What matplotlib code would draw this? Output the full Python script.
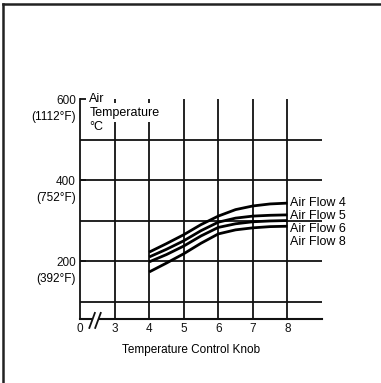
import matplotlib
matplotlib.use("Agg")
import matplotlib.pyplot as plt
from matplotlib.lines import Line2D

plt.rcParams["font.family"] = ["Liberation Sans", "DejaVu Sans"]

# knob positions and read-off temperatures (deg C)
knob = [4, 4.5, 5, 5.5, 6, 6.5, 7, 7.5, 8]
flow4 = [222, 243, 265, 290, 311, 327, 336, 341, 343]
flow5 = [210, 229, 250, 275, 296, 306, 311, 313, 314]
flow6 = [198, 216, 237, 262, 283, 292, 297, 299, 300]
flow8 = [173, 195, 218, 244, 267, 277, 282, 285, 286]
series = [("Air Flow 4", flow4), ("Air Flow 5", flow5),
          ("Air Flow 6", flow6), ("Air Flow 8", flow8)]

x_ticks = [2, 3, 4, 5, 6, 7, 8]
x_labels = ["0", "3", "4", "5", "6", "7", "8"]
y_ticks = [200, 400, 600]
y_labels = ["200", "400", "600"]
f_labels = ["(392°F)", "(752°F)", "(1112°F)"]
grid_y = [100, 200, 300, 400, 500]

W, H = 381, 383
fig = plt.figure(figsize=(W / 100, H / 100), dpi=100)
ax = fig.add_axes([80 / W, 1 - 319 / H, 242 / W, 220 / H])

y0 = 57
ax.set_xlim(2, 9)
ax.set_ylim(y0, 600)

# grid
ax.hlines(grid_y, 2, 9, color="#111", lw=1.3, zorder=1)
ax.vlines(x_ticks[1:], y0, 600, color="#111", lw=1.3, zorder=1)

for name, vals in series:
    ax.plot(knob, vals, color="#000", lw=2.0, solid_capstyle="butt",
            solid_joinstyle="round", zorder=3)

for i, (name, vals) in enumerate(series):
    ax.annotate(name, xy=(8, flow4[-1]), xytext=(2, -i * 9.4),
                textcoords="offset points", ha="left", va="center",
                fontsize=9, annotation_clip=False)

for s in ["top", "right", "bottom"]:
    ax.spines[s].set_visible(False)
ax.spines["left"].set_linewidth(1.3)
ax.spines["left"].set_color("#111")

# broken x axis
ax.plot([2, 2.35], [y0, y0], color="#111", lw=1.5, clip_on=False)
ax.plot([2.58, 9], [y0, y0], color="#111", lw=1.5, clip_on=False)
for dx in (0.0, 0.17):
    ax.plot([2.27 + dx, 2.43 + dx], [y0 - 22, y0 + 15], color="#111",
            lw=1.3, clip_on=False)

ax.set_xticks(x_ticks)
ax.set_xticklabels(x_labels)
ax.set_yticks(y_ticks)
ax.set_yticklabels(y_labels)
ax.tick_params(axis="both", direction="in", length=4, width=1.3,
               labelsize=8.5, pad=3, colors="#111")
ax.tick_params(axis="x", length=0)
for t, lab in zip(y_ticks, f_labels):
    ax.annotate(lab, xy=(2, t), xytext=(-3, -13), textcoords="offset points",
                ha="right", va="center", fontsize=8.5, annotation_clip=False)

ax.set_xlabel("Temperature Control Knob", fontsize=8.5, x=0.459, labelpad=6)

# axis title inside the plot
ax.text(2.27, 600, "Air", fontsize=9, ha="left", va="center", zorder=5)
ax.text(2.27, 566, "Temperature", fontsize=9, ha="left", va="center", zorder=5,
        bbox=dict(facecolor="white", edgecolor="none", pad=2.5))
ax.text(2.27, 532, "°C", fontsize=9, ha="left", va="center", zorder=5,
        bbox=dict(facecolor="white", edgecolor="none", pad=1))

# outer frame, top and left only
fig.add_artist(Line2D([3 / W, 1], [1 - 4 / H, 1 - 4 / H], color="#222", lw=1.8))
fig.add_artist(Line2D([3 / W, 3 / W], [0, 1 - 4 / H], color="#222", lw=1.8))

fig.savefig("out.png", dpi=100, facecolor="white")
